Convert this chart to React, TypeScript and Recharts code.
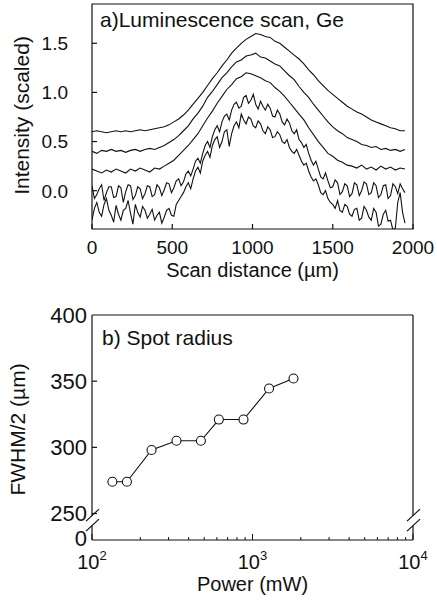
import {
  Label,
  Line,
  LineChart,
  ReferenceArea,
  XAxis,
  YAxis,
} from "recharts";

const FONT = '"Liberation Sans", Arial, Helvetica, sans-serif';
const INK = "#111";

// ---- panel a) luminescence scans ----
// smoother upper traces, sampled every 30 µm
const scanX = [
  0, 30, 60, 90, 120, 150, 180, 210, 240, 270, 300,
  330, 360, 390, 420, 450, 480, 510, 540, 570, 600, 630,
  660, 690, 720, 750, 780, 810, 840, 870, 900, 930, 960,
  990, 1020, 1050, 1080, 1110, 1140, 1170, 1200, 1230, 1260, 1290,
  1320, 1350, 1380, 1410, 1440, 1470, 1500, 1530, 1560, 1590, 1620,
  1650, 1680, 1710, 1740, 1770, 1800, 1830, 1860, 1890, 1920, 1950,
];

const scan1 = [
  0.60, 0.61, 0.60, 0.59, 0.60, 0.61, 0.60, 0.61, 0.60, 0.61, 0.62,
  0.61, 0.62, 0.63, 0.64, 0.65, 0.67, 0.70, 0.73, 0.77, 0.82, 0.88,
  0.94, 1.00, 1.07, 1.14, 1.20, 1.27, 1.33, 1.40, 1.45, 1.50, 1.54,
  1.57, 1.60, 1.59, 1.57, 1.56, 1.52, 1.50, 1.46, 1.42, 1.38, 1.34,
  1.29, 1.23, 1.18, 1.12, 1.07, 1.02, 0.98, 0.94, 0.90, 0.86, 0.83,
  0.80, 0.78, 0.75, 0.72, 0.70, 0.68, 0.66, 0.64, 0.63, 0.61, 0.61,
];
const scan2 = [
  0.40, 0.38, 0.41, 0.40, 0.42, 0.40, 0.41, 0.39, 0.41, 0.42, 0.40,
  0.42, 0.43, 0.42, 0.44, 0.46, 0.49, 0.52, 0.56, 0.61, 0.66, 0.73,
  0.79, 0.86, 0.95, 1.01, 1.08, 1.15, 1.20, 1.26, 1.31, 1.33, 1.37,
  1.38, 1.40, 1.36, 1.35, 1.32, 1.29, 1.27, 1.22, 1.17, 1.13, 1.06,
  1.00, 0.95, 0.88, 0.82, 0.76, 0.70, 0.65, 0.61, 0.58, 0.54, 0.52,
  0.50, 0.47, 0.46, 0.44, 0.45, 0.42, 0.43, 0.41, 0.42, 0.40, 0.42,
];
const scan3 = [
  0.22, 0.20, 0.18, 0.21, 0.19, 0.22, 0.20, 0.18, 0.22, 0.20, 0.23,
  0.21, 0.19, 0.23, 0.22, 0.25, 0.28, 0.31, 0.36, 0.41, 0.46, 0.52,
  0.58, 0.66, 0.74, 0.81, 0.89, 0.96, 1.03, 1.08, 1.14, 1.16, 1.20,
  1.19, 1.17, 1.15, 1.12, 1.10, 1.05, 1.01, 0.96, 0.90, 0.84, 0.78,
  0.72, 0.64, 0.57, 0.50, 0.44, 0.38, 0.35, 0.31, 0.29, 0.26, 0.25,
  0.23, 0.26, 0.22, 0.24, 0.21, 0.25, 0.22, 0.24, 0.21, 0.23, 0.22,
];

// noisy lower traces, sampled every 15 µm
const scanXFine = [
  0, 15, 30, 45, 60, 75, 90, 105, 120, 135,
  150, 165, 180, 195, 210, 225, 240, 255, 270, 285,
  300, 315, 330, 345, 360, 375, 390, 405, 420, 435,
  450, 465, 480, 495, 510, 525, 540, 555, 570, 585,
  600, 615, 630, 645, 660, 675, 690, 705, 720, 735,
  750, 765, 780, 795, 810, 825, 840, 855, 870, 885,
  900, 915, 930, 945, 960, 975, 990, 1005, 1020, 1035,
  1050, 1065, 1080, 1095, 1110, 1125, 1140, 1155, 1170, 1185,
  1200, 1215, 1230, 1245, 1260, 1275, 1290, 1305, 1320, 1335,
  1350, 1365, 1380, 1395, 1410, 1425, 1440, 1455, 1470, 1485,
  1500, 1515, 1530, 1545, 1560, 1575, 1590, 1605, 1620, 1635,
  1650, 1665, 1680, 1695, 1710, 1725, 1740, 1755, 1770, 1785,
  1800, 1815, 1830, 1845, 1860, 1875, 1890, 1905, 1920, 1935,
  1950,
];
const scan4 = [
  0.05, -0.08, -0.04, 0.02, 0.06, -0.10, -0.02, 0.04, 0.04, -0.07,
  -0.06, 0.05, 0.03, -0.12, -0.01, 0.06, 0.05, -0.09, -0.05, 0.04,
  0.02, -0.08, -0.03, 0.05, 0.04, -0.06, -0.04, 0.06, 0.03, -0.05,
  0.01, 0.08, 0.07, -0.02, 0.03, 0.10, 0.12, 0.05, 0.09, 0.17,
  0.20, 0.15, 0.22, 0.30, 0.33, 0.28, 0.38, 0.46, 0.50, 0.44,
  0.55, 0.62, 0.66, 0.60, 0.70, 0.76, 0.78, 0.72, 0.82, 0.88,
  0.90, 0.84, 0.86, 0.95, 0.97, 0.89, 0.92, 0.98, 0.88, 0.83,
  0.91, 0.86, 0.82, 0.88, 0.84, 0.76, 0.75, 0.82, 0.78, 0.70,
  0.67, 0.73, 0.69, 0.61, 0.58, 0.62, 0.52, 0.49, 0.44, 0.47,
  0.38, 0.31, 0.26, 0.30, 0.22, 0.14, 0.12, 0.18, 0.10, 0.03,
  0.04, 0.11, 0.08, -0.04, -0.01, 0.07, 0.05, -0.06, -0.03, 0.08,
  0.06, -0.05, 0.00, 0.09, 0.07, -0.04, -0.02, 0.08, 0.05, -0.07,
  -0.04, 0.05, 0.06, -0.08, -0.05, 0.07, 0.04, -0.03, 0.07, 0.02,
  -0.02,
];
const scan5 = [
  -0.30, -0.18, -0.12, -0.22, -0.26, -0.14, -0.08, -0.20, -0.25, -0.32,
  -0.15, -0.24, -0.30, -0.20, -0.18, -0.10, -0.23, -0.34, -0.14, -0.22,
  -0.27, -0.16, -0.20, -0.28, -0.24, -0.19, -0.30, -0.25, -0.22, -0.33,
  -0.27, -0.20, -0.18, -0.25, -0.26, -0.14, -0.10, -0.06, -0.02, 0.04,
  0.08, 0.02, 0.12, 0.20, 0.24, 0.18, 0.30, 0.36, 0.40, 0.34,
  0.46, 0.52, 0.55, 0.44, 0.50, 0.60, 0.62, 0.45, 0.58, 0.66,
  0.70, 0.64, 0.78, 0.72, 0.68, 0.75, 0.73, 0.66, 0.64, 0.71,
  0.68, 0.61, 0.58, 0.65, 0.62, 0.54, 0.55, 0.60, 0.57, 0.50,
  0.48, 0.52, 0.44, 0.40, 0.38, 0.42, 0.36, 0.30, 0.26, 0.28,
  0.20, 0.14, 0.10, 0.12, 0.06, -0.02, -0.04, 0.00, -0.08, -0.12,
  -0.14, -0.18, -0.10, -0.20, -0.22, -0.14, -0.16, -0.24, -0.26, -0.19,
  -0.18, -0.30, -0.28, -0.16, -0.20, -0.27, -0.30, -0.18, -0.22, -0.36,
  -0.34, -0.24, -0.20, -0.31, -0.30, -0.40, -0.38, -0.12, -0.02, -0.22,
  -0.33,
];

const scanTicks = [0, 500, 1000, 1500, 2000];
const intensityTicks = [0, 0.5, 1.0, 1.5];
const intensityDomain = [-0.39, 1.9];

// ---- panel b) spot radius ----
const powerMw = [134, 165, 235, 336, 477, 617, 879, 1268, 1800];
const fwhmHalf = [274, 274, 298, 305, 305, 321, 321, 344.5, 352];

const powerTicks = [
  100, 200, 300, 400, 500, 600, 700, 800, 900,
  1000, 2000, 3000, 4000, 5000, 6000, 7000, 8000, 9000, 10000,
];
const powerMajor = [100, 1000, 10000];
const fwhmTicks = [230, 250, 300, 350, 400];
const fwhmZero = 230; // shown as "0" below the axis break
const fwhmBreak = 245;
const fwhmDomain = [230, 400];

const zipCurve = (xs: number[], ys: number[]) => xs.map((x, i) => ({ x, v: ys[i] }));
const scanCurves = [
  { key: "s1", rows: zipCurve(scanX, scan1) },
  { key: "s2", rows: zipCurve(scanX, scan2) },
  { key: "s3", rows: zipCurve(scanX, scan3) },
  { key: "s4", rows: zipCurve(scanXFine, scan4) },
  { key: "s5", rows: zipCurve(scanXFine, scan5) },
];
const powerRows = powerMw.map((p, i) => ({ power: p, fwhm: fwhmHalf[i] }));

const textStyle = { fontFamily: FONT, fill: INK };

function ScanTick({ x, y, payload }: any) {
  return (
    <g>
      <line x1={x} x2={x} y1={y} y2={y - 5} stroke={INK} strokeWidth={1.2} />
      <text x={x} y={y + 25} textAnchor="middle" fontSize={19} {...textStyle}>
        {payload.value}
      </text>
    </g>
  );
}

function IntensityTick({ x, y, payload }: any) {
  return (
    <g>
      <line x1={x} x2={x + 5} y1={y} y2={y} stroke={INK} strokeWidth={1.2} />
      <text x={x - 24} y={y} dy="0.36em" textAnchor="end" fontSize={19} {...textStyle}>
        {payload.value.toFixed(1)}
      </text>
    </g>
  );
}

function PowerTick({ x, y, payload }: any) {
  const major = powerMajor.includes(payload.value);
  return (
    <g>
      <line x1={x} x2={x} y1={y} y2={y - (major ? 6 : 3)} stroke={INK} strokeWidth={1} />
      {major && (
        <text x={x} y={y + 29} textAnchor="middle" fontSize={20} {...textStyle}>
          10
          <tspan dy={-9} fontSize={13}>
            {Math.round(Math.log10(payload.value))}
          </tspan>
        </text>
      )}
    </g>
  );
}

function FwhmTick({ x, y, payload }: any) {
  const v = payload.value;
  const isZero = v === fwhmZero;
  const inner = !isZero && v !== fwhmDomain[1];
  return (
    <g>
      {inner && <line x1={x} x2={x + 5} y1={y} y2={y} stroke={INK} strokeWidth={1.2} />}
      <text
        x={x - 5}
        y={y}
        dy={isZero ? "0.25em" : "0.36em"}
        textAnchor="end"
        fontSize={22}
        {...textStyle}
      >
        {isZero ? "0" : v}
      </text>
    </g>
  );
}

// plot frame with the "//" axis break on both sides
function BrokenBox({ x, y, width, height }: any) {
  const yb = y + (height * (fwhmDomain[1] - fwhmBreak)) / (fwhmDomain[1] - fwhmDomain[0]);
  const side = (sx: number) => (
    <g key={sx}>
      <line x1={sx} x2={sx} y1={y} y2={yb - 4.5} />
      <line x1={sx} x2={sx} y1={yb + 5.5} y2={y + height} />
      <line x1={sx - 6} y1={yb + 1} x2={sx + 7} y2={yb - 11} />
      <line x1={sx - 6} y1={yb + 11} x2={sx + 7} y2={yb - 1} />
    </g>
  );
  return (
    <g stroke={INK} strokeWidth={1.2} fill="none">
      <line x1={x} x2={x + width} y1={y} y2={y} />
      <line x1={x} x2={x + width} y1={y + height} y2={y + height} />
      {side(x)}
      {side(x + width)}
    </g>
  );
}

const panelTitle = (text: string, dx: number, dy: number) => (p: any) => (
  <text x={p.viewBox.x + dx} y={p.viewBox.y + dy} fontSize={21} {...textStyle}>
    {text}
  </text>
);

const xTitle = (text: string, dy: number) => (p: any) => (
  <text
    x={p.viewBox.x + p.viewBox.width / 2}
    y={p.viewBox.y + dy}
    textAnchor="middle"
    fontSize={20}
    {...textStyle}
  >
    {text}
  </text>
);

const yTitle = (text: string, dx: number, dy: number) => (p: any) => {
  const cx = p.viewBox.x + dx;
  const cy = p.viewBox.y + p.viewBox.height / 2 + dy;
  return (
    <text
      x={cx}
      y={cy}
      transform={`rotate(-90 ${cx} ${cy})`}
      textAnchor="middle"
      fontSize={21}
      {...textStyle}
    >
      {text}
    </text>
  );
};

export default function App() {
  return (
    <div style={{ position: "absolute", left: 0, top: 0, width: 437, height: 604, background: "#fff" }}>
      <div style={{ position: "absolute", left: 0, top: 0 }}>
        <LineChart width={437} height={300} margin={{ top: 4, right: 24, bottom: 31, left: 32 }}>
          <XAxis
            dataKey="x"
            type="number"
            domain={[0, 2000]}
            ticks={scanTicks}
            interval={0}
            allowDataOverflow
            height={40}
            axisLine={false}
            tickLine={false}
            tickSize={0}
            tickMargin={0}
            tick={(p: any) => <ScanTick {...p} />}
            label={{ content: xTitle("Scan distance (µm)", 48) }}
          />
          <YAxis
            type="number"
            domain={intensityDomain}
            ticks={intensityTicks}
            interval={0}
            allowDataOverflow
            width={60}
            axisLine={false}
            tickLine={false}
            tickSize={0}
            tickMargin={0}
            tick={(p: any) => <IntensityTick {...p} />}
            label={{ content: yTitle("Intensity (scaled)", -3, -1) }}
          />
          <ReferenceArea
            x1={0}
            x2={2000}
            y1={intensityDomain[0]}
            y2={intensityDomain[1]}
            fill="none"
            fillOpacity={0}
            stroke={INK}
            strokeWidth={1.2}
            ifOverflow="visible"
          >
            <Label content={panelTitle("a)Luminescence scan, Ge", 8, 23)} />
          </ReferenceArea>
          {scanCurves.map((c) => (
            <Line
              key={c.key}
              data={c.rows}
              dataKey="v"
              type="linear"
              stroke={INK}
              strokeWidth={1.1}
              dot={false}
              isAnimationActive={false}
            />
          ))}
        </LineChart>
      </div>

      <div style={{ position: "absolute", left: 0, top: 300 }}>
        <LineChart
          width={437}
          height={304}
          data={powerRows}
          margin={{ top: 15, right: 24, bottom: 24, left: 32 }}
        >
          <XAxis
            dataKey="power"
            type="number"
            scale="log"
            domain={[100, 10000]}
            ticks={powerTicks}
            interval={0}
            allowDataOverflow
            height={40}
            axisLine={false}
            tickLine={false}
            tickSize={0}
            tickMargin={0}
            tick={(p: any) => <PowerTick {...p} />}
            label={{ content: xTitle("Power (mW)", 51) }}
          />
          <YAxis
            type="number"
            domain={fwhmDomain}
            ticks={fwhmTicks}
            interval={0}
            allowDataOverflow
            width={60}
            axisLine={false}
            tickLine={false}
            tickSize={0}
            tickMargin={0}
            tick={(p: any) => <FwhmTick {...p} />}
            label={{ content: yTitle("FWHM/2 (µm)", -7, 2) }}
          />
          <ReferenceArea
            x1={100}
            x2={10000}
            y1={fwhmDomain[0]}
            y2={fwhmDomain[1]}
            ifOverflow="visible"
            shape={(p: any) => <BrokenBox {...p} />}
          >
            <Label content={panelTitle("b) Spot radius", 10, 30)} />
          </ReferenceArea>
          <Line
            dataKey="fwhm"
            type="linear"
            stroke={INK}
            strokeWidth={1.1}
            dot={{ r: 4.5, fill: "#fff", stroke: INK, strokeWidth: 1.1 }}
            isAnimationActive={false}
          />
        </LineChart>
      </div>
    </div>
  );
}
